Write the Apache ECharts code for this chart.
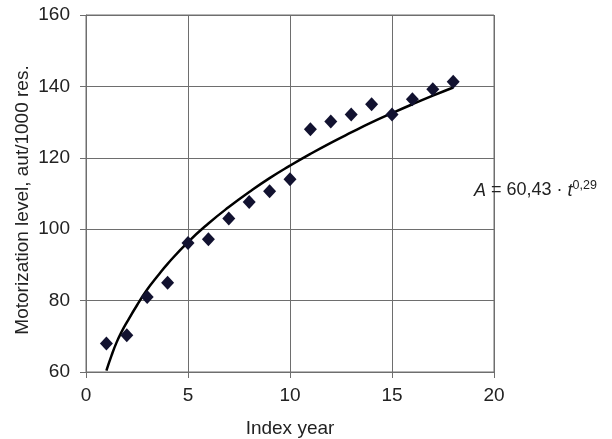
<!DOCTYPE html>
<html><head><meta charset="utf-8">
<script src="https://cdn.jsdelivr.net/npm/echarts@6/dist/echarts.min.js"></script>
<style>html,body{margin:0;padding:0;background:#fff}#c{width:612px;height:439px}</style>
</head><body><div id="c"></div>
<script>
const years = [1,2,3,4,5,6,7,8,9,10,11,12,13,14,15,16,17,18];
const motorization = [68,70.3,81,85,96.1,97.2,103,107.6,110.6,114,128,130.2,132.1,135,132.1,136.4,139.2,141.3];
// trend line points
const trendT = [1,1.25,1.5,1.75,2,2.5,3,3.5,4,5,6,7,8,9,10,11,12,13,14,15,16,17,18];
const trendA = [60.4,64.6,68.3,71.3,73.9,78.7,83.1,86.8,90.3,96.4,101.6,106.2,110.4,114.3,117.8,121.1,124.2,127.1,129.9,132.5,135.0,137.4,139.7];
const xTicks = [0,5,10,15,20];
const yTicks = [60,80,100,120,140,160];

const font = '"Liberation Sans", Arial, sans-serif';
const gridColor = '#6e6e6e';
const chart = echarts.init(document.getElementById('c'));
chart.setOption({
  animation:false,
  backgroundColor:'#fff',
  grid:{left:86,right:118,top:15,bottom:67,show:true,borderColor:gridColor,borderWidth:1,
        containLabel:false,outerBoundsMode:'none'},
  xAxis:{type:'value',min:xTicks[0],max:xTicks[xTicks.length-1],interval:5,
    name:'Index year',nameLocation:'middle',nameGap:47,
    nameTextStyle:{fontFamily:font,fontSize:19,color:'#222'},
    axisLine:{show:true,lineStyle:{color:gridColor,width:1}},
    axisTick:{show:true,length:6,lineStyle:{color:gridColor}},
    axisLabel:{fontFamily:font,fontSize:19,color:'#222',margin:14},
    splitLine:{show:true,lineStyle:{color:gridColor,width:1}}},
  yAxis:{type:'value',min:yTicks[0],max:yTicks[yTicks.length-1],interval:20,
    axisLine:{show:true,lineStyle:{color:gridColor,width:1}},
    axisTick:{show:true,length:6,lineStyle:{color:gridColor}},
    axisLabel:{fontFamily:font,fontSize:19,color:'#222',margin:16},
    splitLine:{show:true,lineStyle:{color:gridColor,width:1}}},
  series:[
    {type:'line',data:trendT.map((t,i)=>[t,trendA[i]]),smooth:0.5,showSymbol:false,
     lineStyle:{color:'#000',width:2.5},z:2},
    {type:'scatter',data:years.map((t,i)=>[t,motorization[i]]),symbol:'diamond',symbolSize:[13,14],
     itemStyle:{color:'#121230',opacity:1},z:3}
  ],
  graphic:[
    {type:'text',x:23,y:200,rotation:Math.PI/2,z:10,
     style:{text:'Motorization level, aut/1000 res.',fontFamily:font,fontSize:19,fill:'#222',
            align:'center',verticalAlign:'middle'}},
    {type:'text',left:474,top:179,z:10,
    style:{rich:{i:{fontFamily:font,fontStyle:'italic',fontSize:18,fill:'#222'},
                 n:{fontFamily:font,fontSize:18,fill:'#222'},
                 s:{fontFamily:font,fontSize:12.5,fill:'#222',verticalAlign:'top',padding:[0,0,10,0]}},
      text:'{i|A}{n| = 60,43 · }{i|t}{s|0,29}'}}]
});
</script></body></html>
